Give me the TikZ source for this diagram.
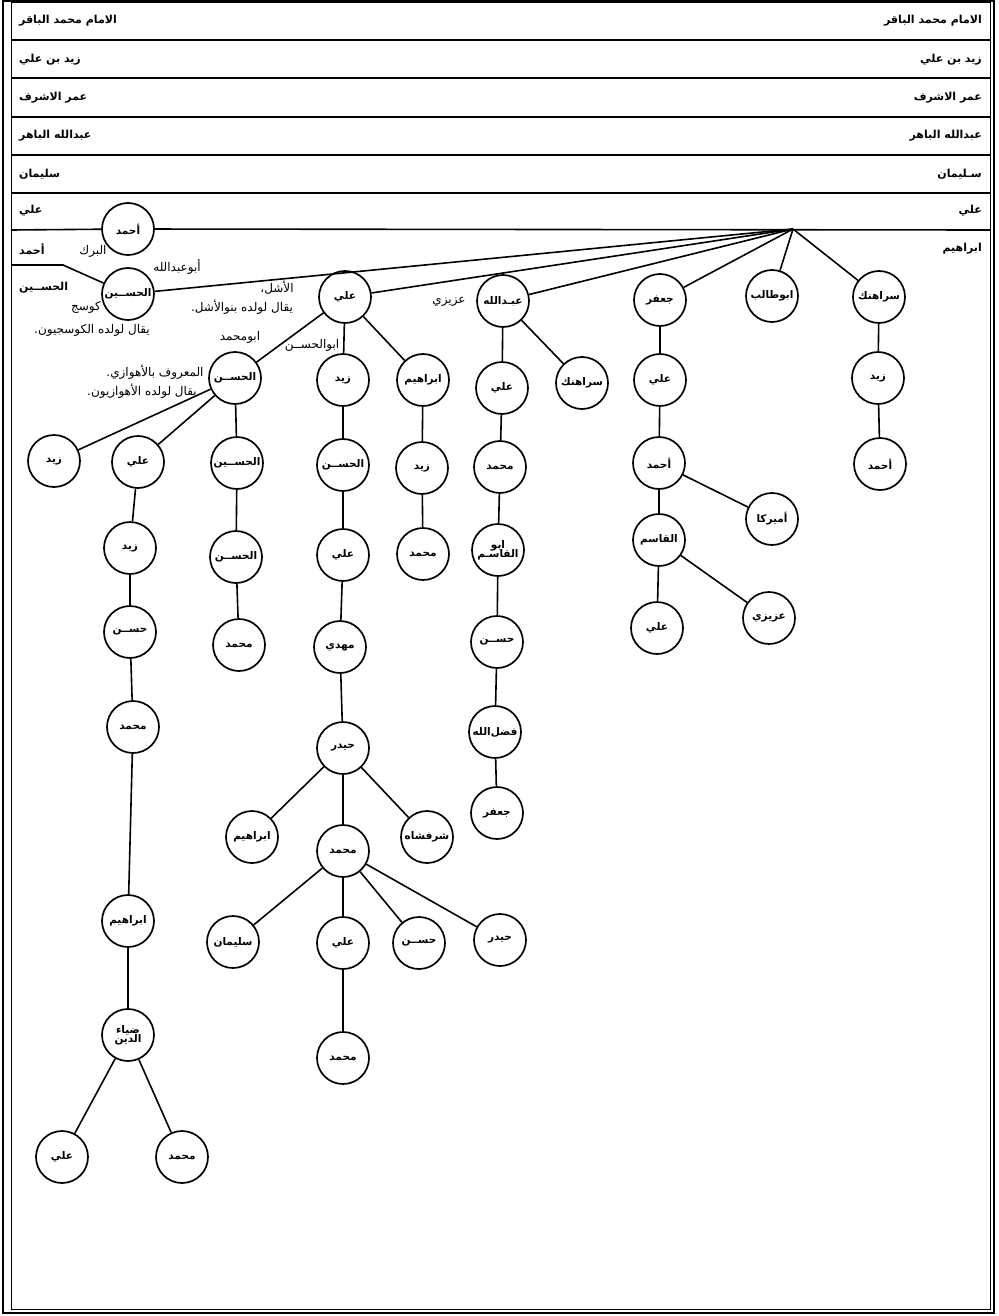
\documentclass[tikz,border=0pt]{standalone}
\usepackage{fontspec}
\newfontfamily\arabicfont[Script=Arabic]{DejaVu Sans}
\TeXXeTstate=1
\newcommand\RTLtxt[1]{\beginR #1\endR}
\tikzset{
  person/.style={circle, draw, line width=1.7pt, minimum size=52pt, inner sep=0pt,
    font=\arabicfont\bfseries\fontsize{10.5}{12}\selectfont, align=center},
  conn/.style={line width=1.6pt},
  rowline/.style={line width=1.3pt},
  note/.style={font=\arabicfont\fontsize{12}{13}\selectfont, inner sep=0pt, align=center},
  hdr/.style={font=\arabicfont\bfseries\fontsize{11}{12}\selectfont, inner sep=0pt},
}
\begin{document}
\begin{tikzpicture}[x=1pt,y=-1pt]
\useasboundingbox (0,0) rectangle (998,1316);
% frame
\draw[line width=1.8pt] (3,1) rectangle (994,1313);
\draw[line width=1pt] (11,3) rectangle (990,1309);
\foreach \yy in {40,78,117,155,193} \draw[rowline] (11,\yy) -- (990,\yy);
% header labels
\node[hdr, anchor=east] (r1) at (982,21) {\RTLtxt{الامام محمد الباقر}};
\node[hdr, anchor=west] (l1) at (19,21) {\RTLtxt{الامام محمد الباقر}};
\node[hdr, anchor=east] (r2) at (982,60) {\RTLtxt{زيد بن علي}};
\node[hdr, anchor=west] (l2) at (19,60) {\RTLtxt{زيد بن علي}};
\node[hdr, anchor=east] (r3) at (982,98) {\RTLtxt{عمر الاشرف}};
\node[hdr, anchor=west] (l3) at (19,98) {\RTLtxt{عمر الاشرف}};
\node[hdr, anchor=east] (r4) at (982,136) {\RTLtxt{عبدالله الباهر}};
\node[hdr, anchor=west] (l4) at (19,136) {\RTLtxt{عبدالله الباهر}};
\node[hdr, anchor=east] (r5) at (982,174) {\RTLtxt{سـليمان}};
\node[hdr, anchor=west] (l5) at (19,174) {\RTLtxt{سليمان}};
\node[hdr, anchor=east] (r6) at (982,211) {\RTLtxt{علي}};
\node[hdr, anchor=west] (l6) at (19,211) {\RTLtxt{علي}};
\node[hdr, anchor=east] (r7) at (982,249) {\RTLtxt{ابراهيم}};
\node[hdr, anchor=west] (l7) at (19,249) {\RTLtxt{أحمد}};
\node[hdr, anchor=west] (l8) at (19,288) {\RTLtxt{الحســين}};
% coordinates
\coordinate (hub) at (793,229);
\coordinate (l6w) at (11,230);
\coordinate (l6e) at (990,230);
\coordinate (l8w) at (11,265);
\coordinate (l8k) at (63,265);
% nodes
\node[person] (a0) at (128,229) {\RTLtxt{أحمد}};
\node[person] (h1) at (128,294) {\RTLtxt{الحســين}};
\node[person] (a1) at (345,297) {\RTLtxt{علي}};
\node[person] (b1) at (503,301) {\RTLtxt{عبـدالله}};
\node[person] (c1) at (660,300) {\RTLtxt{جعفر}};
\node[person] (d1) at (772,296) {\RTLtxt{ابوطالب}};
\node[person] (e1) at (879,297) {\RTLtxt{سراهنك}};
\node[person] (a2a) at (235,378) {\RTLtxt{الحســن}};
\node[person] (a2b) at (343,380) {\RTLtxt{زيد}};
\node[person] (a2c) at (423,380) {\RTLtxt{ابراهيم}};
\node[person] (b2a) at (502,388) {\RTLtxt{علي}};
\node[person] (b2b) at (582,383) {\RTLtxt{سراهنك}};
\node[person] (c2) at (660,380) {\RTLtxt{علي}};
\node[person] (e2) at (878,378) {\RTLtxt{زيد}};
\node[person] (a3a) at (54,461) {\RTLtxt{زيد}};
\node[person] (a3b) at (138,462) {\RTLtxt{علي}};
\node[person] (a3c) at (237,463) {\RTLtxt{الحســين}};
\node[person] (a3d) at (343,465) {\RTLtxt{الحســن}};
\node[person] (a3e) at (422,468) {\RTLtxt{زيد}};
\node[person] (b3) at (500,467) {\RTLtxt{محمد}};
\node[person] (c3) at (659,463) {\RTLtxt{أحمد}};
\node[person] (e3) at (880,464) {\RTLtxt{أحمد}};
\node[person] (a4b) at (130,548) {\RTLtxt{زيد}};
\node[person] (a4c) at (236,557) {\RTLtxt{الحســن}};
\node[person] (a4d) at (343,555) {\RTLtxt{علي}};
\node[person] (a4e) at (423,554) {\RTLtxt{محمد}};
\node[person] (b4) at (498,550) {\RTLtxt{ابو}\\[-3pt]\RTLtxt{القاسـم}};
\node[person] (c4a) at (659,540) {\RTLtxt{القاسم}};
\node[person] (c4b) at (772,519) {\RTLtxt{أميركا}};
\node[person] (a5b) at (130,632) {\RTLtxt{حســن}};
\node[person] (a5c) at (239,645) {\RTLtxt{محمد}};
\node[person] (a5d) at (340,647) {\RTLtxt{مهدي}};
\node[person] (b5) at (497,642) {\RTLtxt{حســن}};
\node[person] (c5a) at (657,628) {\RTLtxt{علي}};
\node[person] (c5b) at (769,618) {\RTLtxt{عزيزي}};
\node[person] (a6b) at (133,727) {\RTLtxt{محمد}};
\node[person] (a6d) at (343,748) {\RTLtxt{حيدر}};
\node[person] (b6) at (495,732) {\RTLtxt{فضل‌الله}};
\node[person] (a7b) at (128,921) {\RTLtxt{ابراهيم}};
\node[person] (a7d1) at (252,837) {\RTLtxt{ابراهيم}};
\node[person] (a7d2) at (343,851) {\RTLtxt{محمد}};
\node[person] (a7d3) at (427,837) {\RTLtxt{شرفشاه}};
\node[person] (b7) at (497,813) {\RTLtxt{جعفر}};
\node[person] (a8b) at (128,1035) {\RTLtxt{ضياء}\\[-3pt]\RTLtxt{الدين}};
\node[person] (a8d1) at (233,942) {\RTLtxt{سليمان}};
\node[person] (a8d2) at (343,943) {\RTLtxt{علي}};
\node[person] (a8d3) at (419,943) {\RTLtxt{حســن}};
\node[person] (a8d4) at (500,940) {\RTLtxt{حيدر}};
\node[person] (a9b1) at (62,1157) {\RTLtxt{علي}};
\node[person] (a9b2) at (182,1157) {\RTLtxt{محمد}};
\node[person] (a9d) at (343,1058) {\RTLtxt{محمد}};
% notes
\node[note] (n1) at (93,251) {\RTLtxt{البرك}};
\node[note] (n2) at (177,267) {\RTLtxt{أبوعبدالله}};
\node[note] (n3) at (86,307) {\RTLtxt{كوسج}};
\node[note] (n4) at (92,330) {\RTLtxt{يقال لولده الكوسجيون.}};
\node[note] (n5) at (277,288) {\RTLtxt{الأشل،}};
\node[note] (n6) at (242,307) {\RTLtxt{يقال لولده بنوالأشل.}};
\node[note] (n7) at (240,337) {\RTLtxt{ابومحمد}};
\node[note] (n8) at (312,345) {\RTLtxt{ابوالحســن}};
\node[note] (n9) at (155,372) {\RTLtxt{المعروف بالأهوازي.}};
\node[note] (n10) at (142,391) {\RTLtxt{يقال لولده الأهوازيون.}};
\node[note] (n11) at (449,302) {\RTLtxt{عزيزي}};
% connectors
\draw[conn] (l6w) -- (a0);
\draw[conn] (a0) -- (l6e);
\draw[conn] (l8w) -- (l8k) -- (h1);
\foreach \t in {h1,a1,b1,c1,d1,e1} \draw[conn] (hub) -- (\t);
\foreach \p/\c in {a1/a2a,a1/a2b,a1/a2c,b1/b2a,b1/b2b,c1/c2,e1/e2,
  a2a/a3a,a2a/a3b,a2a/a3c,a2b/a3d,a2c/a3e,b2a/b3,c2/c3,e2/e3,
  a3b/a4b,a3c/a4c,a3d/a4d,a3e/a4e,b3/b4,c3/c4a,c3/c4b,
  a4b/a5b,a4c/a5c,a4d/a5d,b4/b5,c4a/c5a,c4a/c5b,
  a5b/a6b,a5d/a6d,b5/b6,
  a6b/a7b,a6d/a7d1,a6d/a7d2,a6d/a7d3,b6/b7,
  a7b/a8b,a7d2/a8d1,a7d2/a8d2,a7d2/a8d3,a7d2/a8d4,
  a8b/a9b1,a8b/a9b2,a8d2/a9d}
  \draw[conn] (\p) -- (\c);
\end{tikzpicture}
\end{document}
